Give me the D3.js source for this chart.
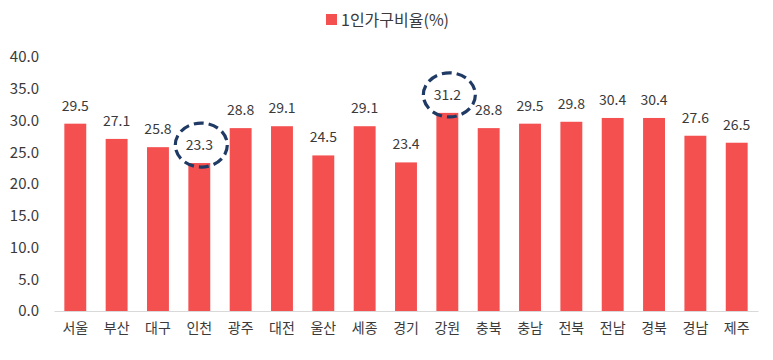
<!DOCTYPE html>
<html>
<head>
<meta charset="utf-8">
<script src="https://cdn.jsdelivr.net/npm/d3@7"></script>
<style>
  body { margin: 0; background: white; }
</style>
</head>
<body>
<div id="container"></div>
<script>
let w = 773;
let h = 360;

let regions = ["서울", "부산", "대구", "인천", "광주", "대전", "울산", "세종", "경기", "강원", "충북", "충남", "전북", "전남", "경북", "경남", "제주"];
let ratios = [29.5, 27.1, 25.8, 23.3, 28.8, 29.1, 24.5, 29.1, 23.4, 31.2, 28.8, 29.5, 29.8, 30.4, 30.4, 27.6, 26.5];
let yTicks = [0, 5, 10, 15, 20, 25, 30, 35, 40];
let circled = ["인천", "강원"];
let seriesName = "1인가구비율(%)";

let font = "'Noto Sans CJK KR', 'Noto Sans', sans-serif";
let barColor = "#f45050";
let textColor = "#3a3a3a";

let viz = d3.select("#container")
  .append("svg")
    .attr("width", w)
    .attr("height", h)
    .style("background-color", "white")
;

let x = d3.scaleBand()
  .domain(regions)
  .range([54, 758])
  .paddingInner(0.47)
  .paddingOuter(0.25)
;

let y = d3.scaleLinear()
  .domain([0, 40])
  .range([311, 57])
;

// y axis labels (no line)
let yAxis = viz.append("g")
    .attr("transform", "translate(42,0)")
    .call(d3.axisLeft(y).tickValues(yTicks).tickFormat(d3.format(".1f")).tickSize(0))
;
yAxis.select(".domain").remove();
yAxis.selectAll("text")
    .attr("fill", textColor)
    .style("font-size", "15px")
    .style("font-family", font)
;

// bars
viz.selectAll(".bar")
  .data(regions)
  .enter()
  .append("rect")
    .attr("class", "bar")
    .attr("x", d => x(d))
    .attr("y", (d, i) => y(ratios[i]))
    .attr("width", x.bandwidth())
    .attr("height", (d, i) => y(0) - y(ratios[i]))
    .attr("fill", barColor)
;

// x axis
let xAxis = viz.append("g")
    .attr("transform", "translate(0," + y(0) + ")")
    .call(d3.axisBottom(x).tickSize(0).tickPadding(12))
;
xAxis.select(".domain")
    .attr("stroke", "#d9d9d9")
    .attr("stroke-width", 1)
;
xAxis.selectAll("text")
    .attr("fill", textColor)
    .style("font-size", "14px")
    .style("font-family", font)
;

// value labels
viz.selectAll(".val")
  .data(regions)
  .enter()
  .append("text")
    .attr("class", "val")
    .text((d, i) => ratios[i].toFixed(1))
    .attr("x", d => x(d) + x.bandwidth() / 2)
    .attr("y", (d, i) => y(ratios[i]) - 13)
    .attr("text-anchor", "middle")
    .attr("fill", textColor)
    .style("font-size", "14px")
    .style("font-family", font)
;

// dashed ellipses around highlighted values
viz.selectAll(".mark")
  .data(circled)
  .enter()
  .append("ellipse")
    .attr("class", "mark")
    .attr("cx", d => x(d) + x.bandwidth() / 2 + 2)
    .attr("cy", d => y(ratios[regions.indexOf(d)]) - 18)
    .attr("rx", 26)
    .attr("ry", 22)
    .attr("fill", "none")
    .style("stroke", "#1f3a64")
    .style("stroke-width", 3.2)
    .style("stroke-dasharray", "10 5")
;

// legend
viz.append("rect")
    .attr("x", 326)
    .attr("y", 14)
    .attr("width", 11)
    .attr("height", 11)
    .attr("fill", barColor)
;
viz.append("text")
    .text(seriesName)
    .attr("x", 341)
    .attr("y", 26)
    .attr("fill", textColor)
    .style("font-size", "16px")
    .style("font-family", font)
;
</script>
</body>
</html>
